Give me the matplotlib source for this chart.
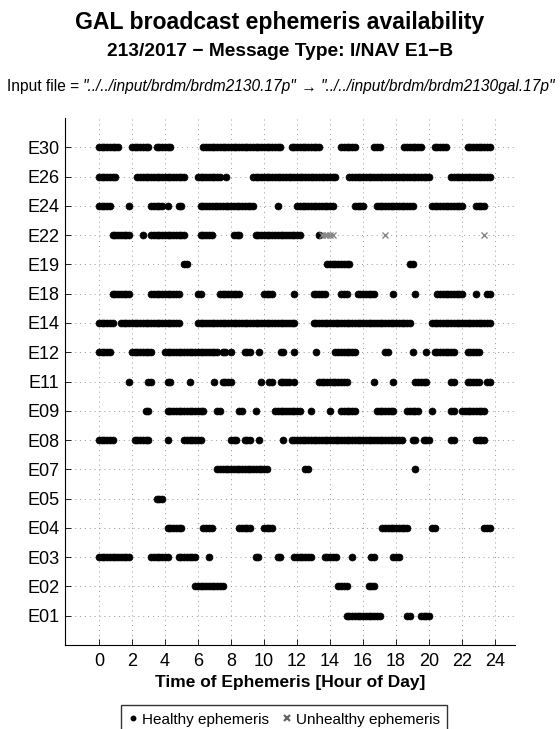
import numpy as np
import matplotlib
matplotlib.use("Agg")
import matplotlib.pyplot as plt

plt.rcParams['font.family'] = ['Liberation Sans', 'DejaVu Sans']

# satellites, bottom to top
sats = ['E01', 'E02', 'E03', 'E04', 'E05', 'E07', 'E08', 'E09', 'E11',
        'E12', 'E14', 'E18', 'E19', 'E22', 'E24', 'E26', 'E30']

# healthy ephemeris runs (start hour, end hour), one entry every 10 minutes inside a run
healthy = {
    'E30': [(0.0, 1.17), (2.0, 3.0), (3.5, 4.33), (6.33, 11.0), (11.67, 13.33),
            (14.67, 15.5), (16.67, 17.0), (18.5, 19.5), (20.33, 21.0), (22.33, 23.67)],
    'E26': [(0.0, 1.0), (2.33, 5.17), (6.0, 7.33), (7.67, 7.67), (9.33, 14.33),
            (15.17, 20.0), (21.33, 23.67)],
    'E24': [(0.0, 0.67), (1.83, 1.83), (3.17, 3.83), (4.17, 4.17), (4.83, 5.0),
            (6.17, 9.33), (10.83, 10.83), (12.0, 14.17), (15.5, 16.0), (16.83, 19.0),
            (20.17, 22.0), (22.83, 23.33)],
    'E22': [(0.83, 1.83), (2.67, 2.67), (3.17, 5.17), (6.17, 6.83), (8.17, 8.5),
            (9.5, 12.17), (13.33, 13.33)],
    'E19': [(5.17, 5.33), (13.83, 15.17), (18.83, 19.0)],
    'E18': [(0.83, 1.83), (3.17, 4.83), (6.0, 6.17), (7.33, 8.5), (10.0, 10.5),
            (11.83, 11.83), (13.0, 13.67), (14.67, 15.0), (15.67, 16.67), (17.83, 17.83),
            (19.17, 19.17), (20.5, 22.0), (22.83, 22.83), (23.5, 23.67)],
    'E14': [(0.0, 0.83), (1.33, 4.83), (6.0, 11.83), (13.0, 18.83), (20.17, 23.67)],
    'E12': [(0.0, 0.67), (2.0, 3.17), (4.0, 7.17), (7.5, 7.67), (8.0, 8.0),
            (8.83, 9.17), (9.67, 9.67), (11.0, 11.17), (11.83, 11.83), (13.17, 13.17),
            (14.33, 15.5), (17.33, 17.5), (19.0, 19.0), (19.83, 19.83), (20.33, 21.5),
            (22.33, 23.0)],
    'E11': [(1.83, 1.83), (3.0, 3.17), (4.17, 4.33), (5.5, 5.5), (7.0, 7.0),
            (7.5, 8.0), (9.83, 9.83), (10.33, 10.5), (11.0, 11.5), (11.83, 11.83),
            (13.33, 15.0), (16.67, 16.67), (17.83, 17.83), (19.17, 19.83), (21.33, 21.5),
            (22.33, 23.0), (23.5, 23.67)],
    'E09': [(2.83, 3.0), (4.17, 6.33), (7.17, 7.33), (8.5, 8.67), (9.5, 9.5),
            (10.67, 12.17), (12.83, 12.83), (14.0, 14.0), (14.67, 15.5), (16.83, 17.83),
            (18.67, 19.33), (20.17, 20.17), (21.33, 21.5), (22.0, 23.33)],
    'E08': [(0.0, 0.83), (2.17, 3.0), (4.17, 4.17), (5.17, 6.17), (8.0, 8.33),
            (8.83, 9.17), (9.67, 9.67), (11.17, 11.17), (11.67, 18.33), (19.0, 19.17),
            (19.67, 20.0), (21.33, 21.5), (22.83, 23.33)],
    'E07': [(7.17, 10.17), (12.5, 12.67), (19.17, 19.17)],
    'E05': [(3.5, 3.83)],
    'E04': [(4.17, 5.0), (6.33, 6.83), (8.5, 9.17), (10.0, 10.5), (17.17, 18.67),
            (20.17, 20.33), (23.33, 23.67)],
    'E03': [(0.0, 1.83), (3.17, 4.17), (4.83, 5.83), (6.67, 6.67), (9.5, 9.67),
            (10.83, 11.0), (11.83, 12.83), (13.67, 14.33), (15.33, 15.33), (16.5, 16.67),
            (17.83, 18.17)],
    'E02': [(5.83, 7.5), (14.5, 15.0), (16.33, 16.67)],
    'E01': [(15.0, 17.0), (18.67, 18.83), (19.5, 20.0)],
}

# unhealthy ephemeris epochs (hour of day)
unhealthy = {
    'E22': [13.5, 13.67, 13.83, 14.0, 14.17, 17.33, 23.33],
}

xticks = np.arange(0, 25, 2)

fig = plt.figure(figsize=(5.6, 7.29), dpi=100)
ax = fig.add_axes([65/560, 1 - 645/729, 450/560, 527/729])

for i, s in enumerate(sats):
    y = i + 1
    for a, b in healthy.get(s, []):
        t = np.arange(a, b + 0.05, 1/6)
        ax.plot(t, np.full(len(t), y), 'o', color='black', ms=5, mec='black', mew=0.5)
    if s in unhealthy:
        t = np.array(unhealthy[s])
        ax.plot(t, np.full(len(t), y), 'x', color='#888888', ms=5, mew=1)

ax.set_xlim(-2.05, 25.2)
ax.set_ylim(0, 18)
ax.set_xticks(xticks)
ax.set_xticklabels([str(v) for v in xticks], fontsize=13)
ax.set_yticks(np.arange(1, len(sats) + 1))
ax.set_yticklabels(sats, fontsize=13)
ax.tick_params(direction='in', length=4, width=0.6)
ax.tick_params(axis='x', pad=6)
ax.tick_params(axis='y', pad=4)
ax.grid(True, linestyle=(0, (1, 4)), color='#999999', linewidth=0.7)
ax.spines['top'].set_visible(False)
ax.spines['right'].set_visible(False)
ax.set_xlabel('Time of Ephemeris [Hour of Day]', fontsize=12.5, fontweight='bold', labelpad=3)

fig.text(0.5, 1 - 23/729, 'GAL broadcast ephemeris availability', ha='center', va='center',
         fontsize=16.6, fontweight='bold')
fig.text(0.5, 1 - 51/729, '213/2017 \u2212 Message Type: I/NAV E1\u2212B', ha='center', va='center',
         fontsize=13.8, fontweight='bold')

# input file line: normal and italic pieces placed side by side
parts = [('Input file = ', 'normal'), ('"../../input/brdm/brdm2130.17p"', 'italic'),
         (' \u2192 ', 'normal'), ('"../../input/brdm/brdm2130gal.17p"', 'italic')]
renderer = fig.canvas.get_renderer()
texts = [fig.text(0, 1 - 87/729, p, style=st, fontsize=11.2, va='center') for p, st in parts]
widths = [t.get_window_extent(renderer).width for t in texts]
x0 = (562 - sum(widths)) / 2
for t, w in zip(texts, widths):
    t.set_x(x0 / 560)
    x0 += w

# legend box
h1, = ax.plot([], [], 'o', color='black', ms=3.2)
h2, = ax.plot([], [], 'x', color='#666666', ms=5, mew=1.6)
fig.legend([h1, h2], ['Healthy ephemeris', 'Unhealthy ephemeris'], loc='upper center',
           bbox_to_anchor=(0.508, 1 - 705/729), ncol=2, fontsize=11, frameon=True,
           fancybox=False, edgecolor='black', handlelength=0.5, handletextpad=0.35,
           columnspacing=0.9, borderpad=0.5, borderaxespad=0)

fig.savefig('out.png', dpi=100)
